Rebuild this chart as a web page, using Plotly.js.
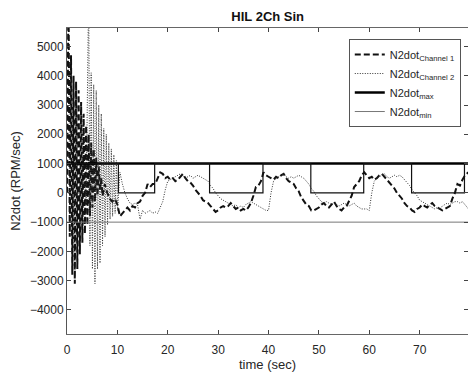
<!DOCTYPE html>
<html>
<head>
<meta charset="utf-8">
<script src="https://cdn.plot.ly/plotly-3.0.1.min.js"></script>
<style>html,body{margin:0;padding:0;overflow:hidden;background:#fff}#chart{width:468px;height:372px}</style>
</head>
<body>
<div id="chart"></div>
<script>
// Channel 1 (dashed): time (s) and N2dot (RPM/sec)
var ch1T = [0,0.3,0.55,0.8,1.05,1.3,1.55,1.8,2.05,2.3,2.55,2.8,3.05,3.3,3.55,3.8,4.05,4.3,4.55,4.8,5.05,5.3,5.55,5.8,6.05,6.3,6.55,6.8,7.05,
  7.5,8,8.5,9,9.5,10,10.5,11,11.5,12,12.5,13,13.5,14,14.5,15,15.5,16,16.5,17,17.5,18,18.5,19,19.5,20,20.5,21,21.5,22,22.5,23,23.5,24,24.5,25,25.5,26,26.5,27,27.5,28,28.5,29,29.5,30,30.5,31,31.5,32,32.5,33,33.5,34,34.5,35,35.5,36,36.5,37,37.5,38,38.5,39,39.5,40,
  40.5,41,41.5,42,42.5,43,43.5,44,44.5,45,45.5,46,46.5,47,47.5,48,48.5,49,49.5,50,50.5,51,51.5,52,52.5,53,53.5,54,54.5,55,55.5,56,56.5,57,57.5,58,58.5,59,59.5,60,
  60.5,61,61.5,62,62.5,63,63.5,64,64.5,65,65.5,66,66.5,67,67.5,68,68.5,69,69.5,70,70.5,71,71.5,72,72.5,73,73.5,74,74.5,75,75.5,76,76.5,77,77.5,78,78.5,79,79.7];
var ch1V = [0,7000,-1500,4700,-2800,4000,-3100,3800,-2600,3500,-2100,3100,-1700,2700,-1400,2300,-1100,2000,-800,1700,-500,1500,-300,1200,-100,900,100,500,-100,
  300,0,-200,-300,-200,-400,-800,-700,-600,-500,-600,-450,-500,-350,-300,-100,0,300,200,300,300,500,700,650,500,550,450,500,400,450,550,650,500,400,350,250,100,0,-100,-250,-300,-350,-450,-550,-650,-600,-500,-450,-500,-450,-350,-450,-550,-500,-600,-550,-600,-500,-350,-100,200,250,400,700,600,550,
  500,450,550,500,600,650,500,400,350,300,150,50,-150,-300,-400,-450,-600,-600,-550,-500,-400,-350,-450,-500,-400,-300,-450,-550,-600,-500,-450,-300,-100,200,300,400,600,700,600,500,
  550,450,500,600,650,550,450,350,250,150,0,-100,-200,-350,-450,-500,-600,-650,-550,-500,-400,-450,-500,-400,-350,-450,-500,-550,-600,-550,-500,-450,-200,0,300,250,450,600,700];

// Channel 2 (dotted)
var ch2T = [0,1,2,3,3.5,3.8,4.05,4.3,4.55,4.8,5.05,5.3,5.55,5.8,6.05,6.3,6.55,6.8,7.05,7.3,7.55,7.8,8.05,8.3,8.55,8.8,9.05,9.3,9.55,9.8,10.05,
  10.5,11,11.5,12,12.5,13,13.5,14,14.5,15,15.5,16,16.5,17,17.5,18,18.5,19,19.5,20,20.5,21,21.5,22,22.5,23,23.5,24,24.5,25,25.5,26,26.5,27,27.5,28,28.5,29,29.5,30,30.5,31,31.5,32,32.5,33,33.5,34,34.5,35,35.5,36,36.5,37,37.5,38,38.5,39,39.5,40,
  40.5,41,41.5,42,42.5,43,43.5,44,44.5,45,45.5,46,46.5,47,47.5,48,48.5,49,49.5,50,50.5,51,51.5,52,52.5,53,53.5,54,54.5,55,55.5,56,56.5,57,57.5,58,58.5,59,59.5,60,
  60.5,61,61.5,62,62.5,63,63.5,64,64.5,65,65.5,66,66.5,67,67.5,68,68.5,69,69.5,70,70.5,71,71.5,72,72.5,73,73.5,74,74.5,75,75.5,76,76.5,77,77.5,78,78.5,79,79.7];
var ch2V = [0,200,-100,300,500,-400,3000,7000,-1800,4100,-2600,3700,-3100,3500,-2600,3000,-2400,2700,-1800,2200,-1500,2000,-1100,1700,-900,1500,-800,1300,-700,1100,-600,
  700,300,0,-200,-350,-400,-350,-400,-900,-600,-700,-650,-600,-700,-650,-700,-500,-300,100,400,450,500,550,600,650,600,500,550,600,500,550,600,550,500,450,400,250,150,0,-100,-200,-250,-300,-350,-400,-450,-400,-500,-450,-500,-400,-350,-300,-350,-400,-450,-500,-550,-600,-600,
  0,400,500,550,600,650,550,500,550,500,550,600,550,500,400,300,150,50,-100,-200,-300,-350,-300,-350,-400,-350,-400,-450,-400,-350,-400,-450,-400,-350,-450,-500,-550,-550,-550,-600,
  0,400,500,550,600,650,550,500,550,600,550,600,550,450,350,250,100,0,-100,-250,-300,-350,-400,-450,-500,-550,-500,-550,-450,-400,-350,-400,-350,-300,-300,-350,-300,-400,-550];

// Limits
var maxT = [0, 80], maxV = [1000, 1000];
var minT = [0, 80], minV = [-1000, -1000];
// Square command envelope (1000 / 0)
var sqT = [0,10.2,10.2,17.4,17.4,28.3,28.3,38.9,38.9,48.4,48.4,58.9,58.9,68.4,68.4,78.9,78.9,80];
var sqV = [1000,1000,0,0,1000,1000,0,0,1000,1000,0,0,1000,1000,0,0,1000,1000];

var xTicks = [0,10,20,30,40,50,60,70];
var yTicks = [-4000,-3000,-2000,-1000,0,1000,2000,3000,4000,5000];

var txt = '#262626';
var traces = [
  {x: ch1T, y: ch1V, mode: 'lines', name: 'N2dot<sub>Channel 1</sub>', line: {color: '#111', width: 2, dash: '6px,3px'}},
  {x: ch2T, y: ch2V, mode: 'lines', name: 'N2dot<sub>Channel 2</sub>', line: {color: '#333', width: 1, dash: '1px,1.5px'}},
  {x: maxT, y: maxV, mode: 'lines', name: 'N2dot<sub>max</sub>', line: {color: '#000', width: 2.5}},
  {x: minT, y: minV, mode: 'lines', name: 'N2dot<sub>min</sub>', line: {color: '#777', width: 1}},
  {x: sqT, y: sqV, mode: 'lines', showlegend: false, line: {color: '#111', width: 1.2}}
];
var layout = {
  width: 468, height: 372,
  margin: {l: 67, r: 0, t: 28, b: 38},
  paper_bgcolor: '#fff', plot_bgcolor: '#fff',
  font: {family: 'Liberation Sans, Arial, sans-serif', size: 12, color: txt},
  title: {text: '<b>HIL 2Ch Sin</b>', font: {size: 13, color: '#111'}, x: 0.572, xanchor: 'center', y: 0.955, yanchor: 'middle'},
  showlegend: true,
  legend: {x: 0.982, y: 0.964, xanchor: 'right', yanchor: 'top', bgcolor: '#fff', bordercolor: '#555', borderwidth: 1,
           font: {size: 11, color: txt}, tracegroupgap: 0},
  xaxis: {range: [0, 79.6], tickvals: xTicks, ticks: 'inside', ticklen: 4, tickcolor: '#444',
          showline: true, linecolor: '#666', linewidth: 1, mirror: 'ticks', showgrid: false, zeroline: false,
          ticklabelstandoff: 5,
          title: {text: 'time (sec)', font: {size: 13, color: txt}, standoff: 3}, tickfont: {size: 12, color: txt}},
  yaxis: {range: [-4820, 5630], tickvals: yTicks, ticks: 'inside', ticklen: 4, tickcolor: '#444',
          showline: true, linecolor: '#555', linewidth: 1, mirror: 'ticks', showgrid: false, zeroline: false,
          title: {text: 'N2dot (RPM/sec)', font: {size: 13, color: txt}, standoff: 6}, tickfont: {size: 12, color: txt}}
};
Plotly.newPlot('chart', traces, layout, {displayModeBar: false, staticPlot: true});
</script>
</body>
</html>
